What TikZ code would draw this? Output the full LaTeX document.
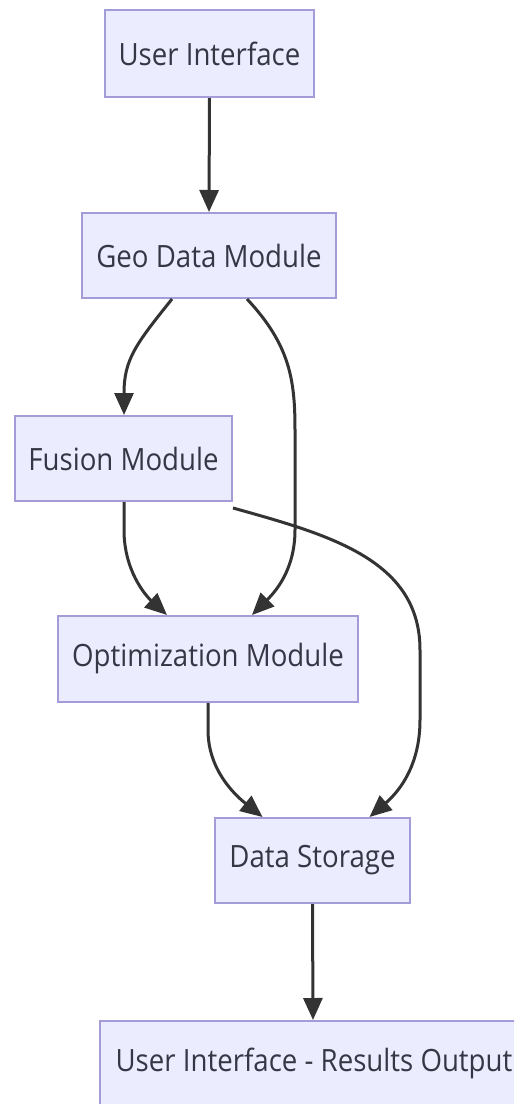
\documentclass[tikz,border=0pt]{standalone}
\usepackage{fontspec}
\usetikzlibrary{arrows.meta}
\newfontfamily\labelfont[FakeStretch=0.9]{Open Sans}
\definecolor{boxfill}{HTML}{ECECFF}
\definecolor{boxline}{HTML}{A49CD8}
\definecolor{edgecol}{HTML}{333333}
\definecolor{textcol}{HTML}{363644}
\tikzset{
  box/.style={draw=boxline, fill=boxfill, line width=2pt, rectangle,
    inner sep=0pt, text=textcol,
    font=\labelfont\fontsize{30.7}{36}\selectfont},
  flow/.style={draw=edgecol, line width=3pt,
    -{Triangle[length=22pt,width=19pt]}},
}
\begin{document}
\begin{tikzpicture}[x=1pt,y=-1pt]
\useasboundingbox (0,0) rectangle (514,1104);
\fill[white] (0,0) rectangle (514,1104);

% process boxes
\node[box, minimum width=209pt, minimum height=87pt] (ui)  at (209.5,53.5) {User Interface};
\node[box, minimum width=254pt, minimum height=85pt] (geo) at (209,255.5) {Geo Data Module};
\node[box, minimum width=217pt, minimum height=85pt] (fus) at (123.5,458.5) {Fusion Module};
\node[box, minimum width=300pt, minimum height=86pt] (opt) at (208,659) {Optimization Module};
\node[box, minimum width=195pt, minimum height=85pt] (ds)  at (312.5,860.5) {Data Storage};
\node[box, minimum width=428pt, minimum height=84pt] (res) at (314,1063) {User Interface - Results Output};

% connectors
\draw[flow] (ui.south) -- (geo.north);
\draw[flow] ([xshift=-37pt]geo.south) .. controls (135,345) and (124,360) .. ([xshift=0.5pt]fus.north);
\draw[flow] ([xshift=38pt]geo.south) .. controls (290,345) and (295,380) .. (295,430)
  -- (295,530) .. controls (295,570) and (275,592) .. ([xshift=44pt]opt.north);
\draw[flow] ([xshift=0.5pt]fus.south) -- (124,530) .. controls (124,570) and (145,595) .. ([xshift=-41pt]opt.north);
\draw[flow] ([yshift=-6pt]fus.south east) .. controls (330,535) and (420,560) .. (420,650)
  -- (420,720) .. controls (420,770) and (395,795) .. ([xshift=57pt]ds.north);
\draw[flow] (opt.south) -- (208,730) .. controls (208,770) and (235,795) .. ([xshift=-50pt]ds.north);
\draw[flow] (ds.south) -- ([xshift=-1pt]res.north);
\end{tikzpicture}
\end{document}
